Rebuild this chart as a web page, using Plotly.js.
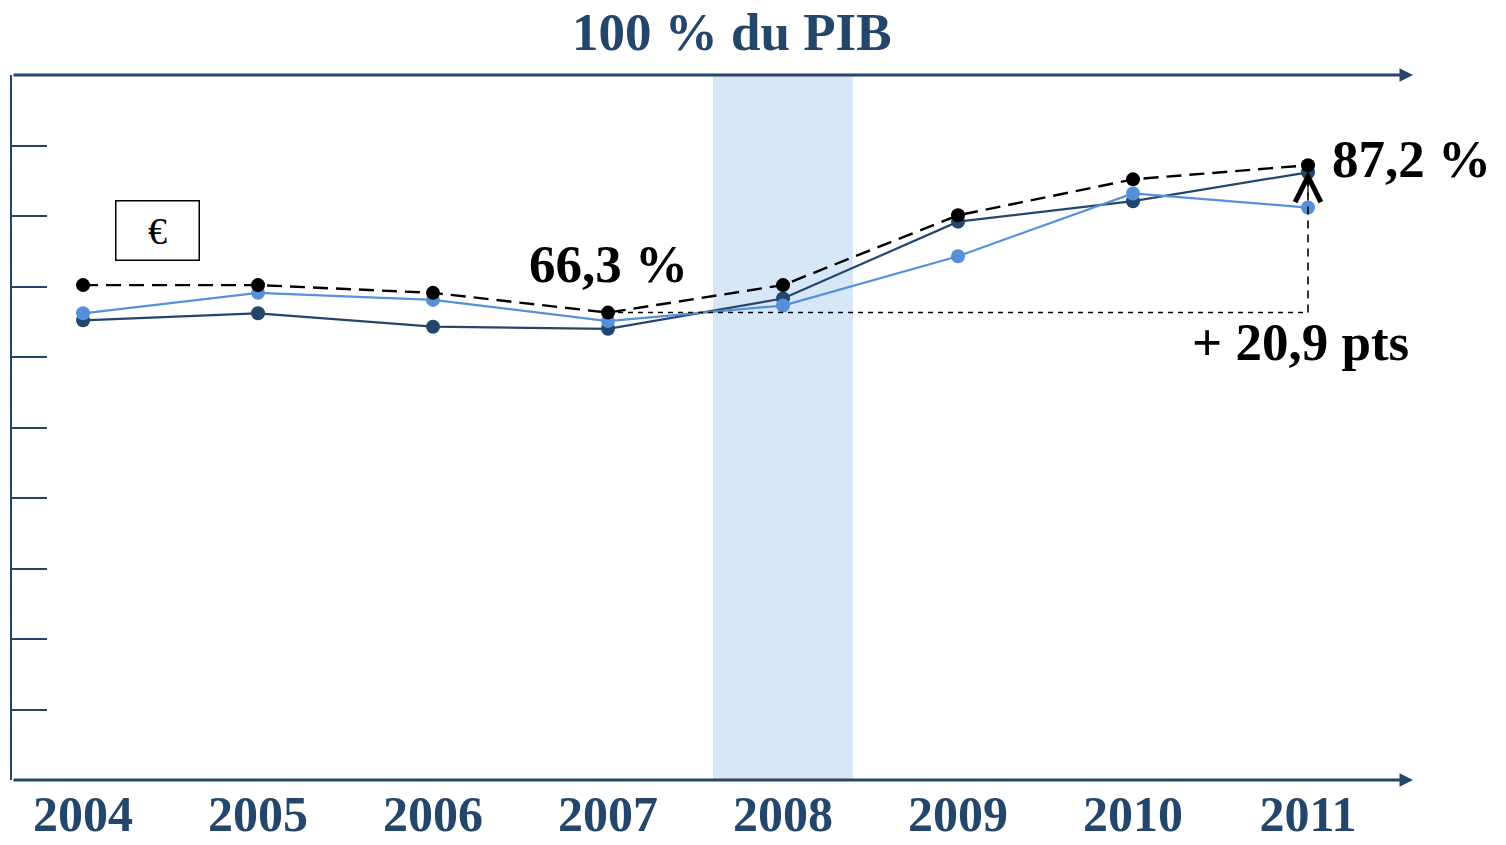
<!DOCTYPE html>
<html>
<head>
<meta charset="utf-8">
<script src="https://cdn.plot.ly/plotly-3.0.1.min.js"></script>
<style>html,body{margin:0;padding:0;background:#fff;}#chart{width:1506px;height:845px;}</style>
</head>
<body>
<div id="chart"></div>
<script>
var years = ['2004', '2005', '2006', '2007', '2008', '2009', '2010', '2011'];
var euroArea = [70.2, 70.2, 69.1, 66.3, 70.2, 80.1, 85.2, 87.2];
var navySeries = [65.2, 66.2, 64.3, 64.0, 68.3, 79.2, 82.1, 86.2];
var lightSeries = [66.2, 69.1, 68.1, 65.1, 67.3, 74.3, 83.2, 81.2];
var topLabel = '100 % du PIB';
var crisisYear = '2008';

var NAVY = '#25466b';
var LIGHT = '#5590da';
var FONT = 'Liberation Serif, serif';

var xIdx = years.map(function (_, i) { return i; });
var i07 = years.indexOf('2007');
var i11 = years.indexOf('2011');
var iCrisis = years.indexOf(crisisYear);
var v07 = euroArea[i07];
var v11 = euroArea[i11];
var diff = (v11 - v07).toFixed(1).replace('.', ',');
var fmt = function (v) { return v.toFixed(1).replace('.', ',') + ' %'; };

var xMin = -0.406, xMax = 7.6;

var traces = [
  {x: xIdx, y: navySeries, mode: 'lines+markers', line: {color: NAVY, width: 2.2},
   marker: {color: NAVY, size: 14}, hoverinfo: 'y'},
  {x: xIdx, y: lightSeries, mode: 'lines+markers', line: {color: LIGHT, width: 2.2},
   marker: {color: LIGHT, size: 14}, hoverinfo: 'y'},
  {x: xIdx, y: euroArea, mode: 'lines+markers', line: {color: '#000', width: 2.4, dash: '15px,8px'},
   marker: {color: '#000', size: 14}, hoverinfo: 'y'}
];

var layout = {
  width: 1506, height: 845,
  margin: {l: 12, r: 93, t: 75, b: 65},
  paper_bgcolor: '#fff', plot_bgcolor: '#fff',
  showlegend: false,
  font: {family: FONT},
  xaxis: {
    range: [xMin, xMax], tickvals: xIdx, ticktext: years.map(function (y) { return '<b>' + y + '</b>'; }),
    showgrid: false, zeroline: false, showline: false, ticks: '',
    tickfont: {family: FONT, size: 50, color: NAVY}, ticklabelstandoff: 0
  },
  yaxis: {
    range: [0, 100], dtick: 10, showgrid: false, zeroline: false,
    showline: true, linecolor: NAVY, linewidth: 2,
    ticks: 'inside', ticklen: 35, tickwidth: 2, tickcolor: NAVY,
    showticklabels: false
  },
  shapes: [
    {type: 'rect', xref: 'x', yref: 'paper', x0: iCrisis - 0.4, x1: iCrisis + 0.4, y0: 0, y1: 1,
     fillcolor: '#d8e7f7', line: {width: 0}, layer: 'below'},
    {type: 'line', xref: 'x', yref: 'y', x0: i07, x1: i11, y0: v07, y1: v07,
     line: {color: '#000', width: 1.5, dash: '5px,5px'}},
    {type: 'line', xref: 'x', yref: 'y', x0: i11, x1: i11, y0: v07, y1: v11 - 0.8,
     line: {color: '#000', width: 1.6, dash: '8px,6px'}}
  ],
  annotations: [
    {text: '<b>' + topLabel + '</b>', xref: 'paper', yref: 'paper', x: 0.514, y: 1, yanchor: 'bottom',
     yshift: 12, showarrow: false, font: {family: FONT, size: 53, color: NAVY}},
    {text: '', xref: 'x', yref: 'y', axref: 'x', ayref: 'y', x: xMax, y: 0, ax: xMin, ay: 0,
     showarrow: true, arrowhead: 2, arrowsize: 0.9, arrowwidth: 3, arrowcolor: NAVY},
    {text: '', xref: 'x', yref: 'y', axref: 'x', ayref: 'y', x: xMax, y: 100, ax: xMin, ay: 100,
     showarrow: true, arrowhead: 2, arrowsize: 0.9, arrowwidth: 3, arrowcolor: NAVY},
    {text: '', xref: 'x', yref: 'y', axref: 'x', ayref: 'y', x: i11, y: v11 - 0.8, ax: i11, ay: v11 - 4.5,
     showarrow: true, arrowhead: 5, arrowsize: 4.2, arrowwidth: 1.2, arrowcolor: '#000'},
    {text: '<b>' + fmt(v07) + '</b>', xref: 'x', yref: 'y', x: i07, y: v07, yanchor: 'bottom',
     yshift: 18, showarrow: false, font: {family: FONT, size: 53, color: '#000'}},
    {text: '<b>' + fmt(v11) + '</b>', xref: 'x', yref: 'y', x: i11, y: v11, xanchor: 'left',
     xshift: 22, yshift: 6, showarrow: false, font: {family: FONT, size: 53, color: '#000'}},
    {text: '<b>+ ' + diff + ' pts</b>', xref: 'x', yref: 'y', x: i11, y: v07, yanchor: 'top',
     xshift: -8, yshift: 2, showarrow: false, font: {family: FONT, size: 53, color: '#000'}},
    {text: '€', xref: 'paper', yref: 'y', x: 0.1035, y: 78, xanchor: 'center', showarrow: false,
     width: 80, height: 56, bordercolor: '#000', borderwidth: 1.5,
     font: {family: FONT, size: 38, color: '#000'}}
  ]
};

Plotly.newPlot('chart', traces, layout, {displayModeBar: false, staticPlot: true});
</script>
</body>
</html>
